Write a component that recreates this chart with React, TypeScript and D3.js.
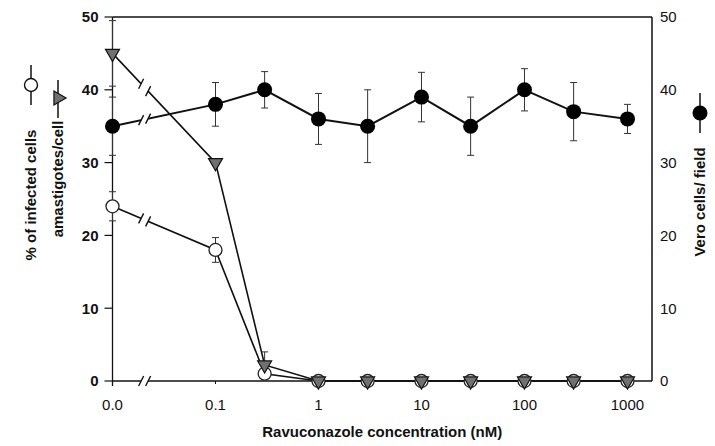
import React from 'react';
import * as d3 from 'd3';

// concentrations in nM; 0 is drawn at the broken-axis position
const concentrations = [0, 0.1, 0.3, 1, 3, 10, 30, 100, 300, 1000];
const infectedPct = [24, 18, 1, 0, 0, 0, 0, 0, 0, 0];
const infectedErr = [2, 1.7, 0, 0, 0, 0, 0, 0, 0, 0];
const amastigotes = [45, 30, 2.2, 0, 0, 0, 0, 0, 0, 0];
const amastigotesErr = [4.5, 0, 1.8, 0, 0, 0, 0, 0, 0, 0];
const veroCells = [35, 38, 40, 36, 35, 39, 35, 40, 37, 36];
const veroErr = [4, 3, 2.5, 3.5, 5, 3.4, 4, 2.9, 4, 2];

const xTickValues = [0, 0.1, 1, 10, 100, 1000];
const xTickLabels = ['0.0', '0.1', '1', '10', '100', '1000'];
const yTicks = [0, 10, 20, 30, 40, 50];

const ZERO_AT = 0.01; // where "0.0" sits on the log axis
const BREAK_AT = 0.0205; // centre of the "//" axis break

const W = 715;
const H = 446;
const margin = { top: 17, right: 63, bottom: 65, left: 112.5 };
const FONT = 'Liberation Sans, Arial, Helvetica, sans-serif';

const xScale = d3.scaleLog()
  .domain([ZERO_AT, 1730])
  .range([margin.left, W - margin.right]);
const yScale = d3.scaleLinear()
  .domain([0, 50])
  .range([H - margin.bottom, margin.top]);

const xPos = (c: number) => xScale(c === 0 ? ZERO_AT : c);

const lineGen = d3.line<[number, number]>()
  .x(d => xPos(d[0]))
  .y(d => yScale(d[1]));

function BreakMarks({ y0, y1 }: { y0: number; y1: number }) {
  // two slanted strokes across a segment from concentration 0 to 0.1, with a gap
  const xa = xScale(BREAK_AT) - 3.5;
  const xb = xScale(BREAK_AT) + 3.5;
  const x0 = xPos(0);
  const x1 = xPos(0.1);
  const yAt = (x: number) => y0 + ((x - x0) / (x1 - x0)) * (y1 - y0);
  return (
    <g>
      <line x1={xa} y1={yAt(xa)} x2={xb} y2={yAt(xb)} stroke="#fff" strokeWidth={5} />
      {[xa, xb].map((x, i) => (
        <line key={i} x1={x - 2.5} y1={yAt(x) + 5} x2={x + 2.5} y2={yAt(x) - 5}
          stroke="#111" strokeWidth={1.4} />
      ))}
    </g>
  );
}

function ErrorBars({ values, errs }: { values: number[]; errs: number[] }) {
  return (
    <g stroke="#333" strokeWidth={1}>
      {values.map((v, i) => {
        if (!errs[i]) return null;
        const x = xPos(concentrations[i]);
        const top = yScale(v + errs[i]);
        const bot = yScale(v - errs[i]);
        return (
          <g key={i}>
            <line x1={x} x2={x} y1={top} y2={bot} />
            <line x1={x - 3.5} x2={x + 3.5} y1={top} y2={top} />
            <line x1={x - 3.5} x2={x + 3.5} y1={bot} y2={bot} />
          </g>
        );
      })}
    </g>
  );
}

const triPath = d3.symbol(d3.symbolTriangle, 85)() as string;

export default function App() {
  const x0 = margin.left;
  const xR = W - margin.right;
  const yB = yScale(0);
  const yT = yScale(50);

  const pts = (vals: number[]) => concentrations.map((c, i) => [c, vals[i]] as [number, number]);

  return (
    <svg width={W} height={H} style={{ position: 'absolute', left: 0, top: 0, background: '#fff' }}
      fontFamily={FONT}>
      {/* frame */}
      <line x1={x0} x2={xR} y1={yT} y2={yT} stroke="#111" strokeWidth={1.5} />
      <line x1={x0} x2={x0} y1={yT} y2={yB + 5} stroke="#111" strokeWidth={1.3} />
      <line x1={xR} x2={xR} y1={yT} y2={yB} stroke="#111" strokeWidth={1.5} />
      <line x1={x0} x2={xR} y1={yB} y2={yB} stroke="#111" strokeWidth={1.3} />
      <BreakMarks y0={yB} y1={yB} />

      {/* left axis */}
      {yTicks.map(t => (
        <g key={t}>
          <line x1={x0 - 8} x2={x0} y1={yScale(t)} y2={yScale(t)} stroke="#111" strokeWidth={1.2} />
          <text x={x0 - 14} y={yScale(t)} dy="0.36em" textAnchor="end" fontSize={15}
            fontWeight="bold" fill="#111">{t}</text>
          <text x={xR + 8} y={yScale(t)} dy="0.36em" textAnchor="start" fontSize={15}
            fill="#111">{t}</text>
        </g>
      ))}

      {/* bottom axis */}
      {xTickValues.map((t, i) => (
        <g key={t}>
          <line x1={xPos(t)} x2={xPos(t)} y1={yB} y2={yB + 3} stroke="#111" strokeWidth={1} />
          <text x={xPos(t)} y={yB + 29} textAnchor="middle" fontSize={15} fill="#111">
            {xTickLabels[i]}
          </text>
        </g>
      ))}
      <text x={(x0 + xR) / 2} y={437} textAnchor="middle" fontSize={15} fontWeight="bold"
        fill="#111">Ravuconazole concentration (nM)</text>

      {/* error bars */}
      <ErrorBars values={veroCells} errs={veroErr} />
      <ErrorBars values={infectedPct} errs={infectedErr} />
      <ErrorBars values={amastigotes} errs={amastigotesErr} />

      {/* lines */}
      <path d={lineGen(pts(veroCells)) as string} fill="none" stroke="#111" strokeWidth={2} />
      <path d={lineGen(pts(infectedPct)) as string} fill="none" stroke="#111" strokeWidth={1.6} />
      <path d={lineGen(pts(amastigotes)) as string} fill="none" stroke="#111" strokeWidth={1.6} />
      <BreakMarks y0={yScale(veroCells[0])} y1={yScale(veroCells[1])} />
      <BreakMarks y0={yScale(infectedPct[0])} y1={yScale(infectedPct[1])} />
      <BreakMarks y0={yScale(amastigotes[0])} y1={yScale(amastigotes[1])} />

      {/* markers */}
      {infectedPct.map((v, i) => (
        <circle key={i} cx={xPos(concentrations[i])} cy={yScale(v)} r={6.5}
          fill="#fff" stroke="#222" strokeWidth={1.3} />
      ))}
      {amastigotes.map((v, i) => (
        <path key={i} d={triPath}
          transform={`translate(${xPos(concentrations[i])},${yScale(v)}) rotate(180)`}
          fill="#707070" stroke="#111" strokeWidth={1.2} />
      ))}
      {veroCells.map((v, i) => (
        <circle key={i} cx={xPos(concentrations[i])} cy={yScale(v)} r={7.5} fill="#000" />
      ))}

      {/* left axis titles with legend keys */}
      <text transform="translate(36,195) rotate(-90)" textAnchor="middle" fontSize={15}
        fontWeight="bold" fill="#111">% of infected cells</text>
      <line x1={31} x2={31} y1={65} y2={105} stroke="#111" strokeWidth={1.5} />
      <circle cx={31} cy={85} r={6.5} fill="#fff" stroke="#111" strokeWidth={1.4} />

      <text transform="translate(63,179) rotate(-90)" textAnchor="middle" fontSize={15}
        fontWeight="bold" fill="#111">amastigotes/cell</text>
      <line x1={58} x2={58} y1={80} y2={118} stroke="#111" strokeWidth={1.5} />
      <path d={triPath} transform="translate(58,98) rotate(90)" fill="#707070" stroke="#111"
        strokeWidth={1.2} />

      {/* right axis title with legend key */}
      <text transform="translate(705,202) rotate(-90)" textAnchor="middle" fontSize={15}
        fontWeight="bold" fill="#111">Vero cells/ field</text>
      <line x1={700} x2={700} y1={93} y2={133} stroke="#111" strokeWidth={1.5} />
      <circle cx={700} cy={113} r={7.5} fill="#000" />
    </svg>
  );
}
